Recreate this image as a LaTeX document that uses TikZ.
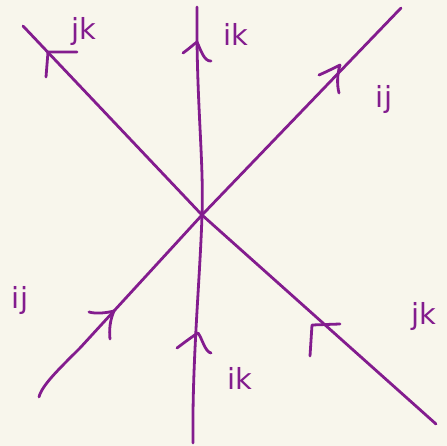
\documentclass[tikz,border=0pt]{standalone}
\usepackage{fontspec}
\setmainfont{DejaVu Sans}
\definecolor{bg}{HTML}{F8F6EC}
\definecolor{ink}{HTML}{831C8E}
\begin{document}
\begin{tikzpicture}[x=1pt,y=-1pt,
  pen/.style={draw=ink,line width=2.8pt,line cap=round,line join=round},
  lbl/.style={text=ink,font=\fontsize{29}{31}\selectfont,inner sep=0pt}]
\fill[bg] (0,0) rectangle (447,446);
\useasboundingbox (0,0) rectangle (447,446);
% vertex
\coordinate (o) at (202,215);
% ends
\coordinate (a1) at (23,26);
\coordinate (a2) at (436,424);
\coordinate (b1) at (197,7);
\coordinate (b2) at (193,443);
\coordinate (c1) at (39,397);
\coordinate (c2) at (401,8);
% lines
\draw[pen] (a1) -- (o) -- (a2);
\draw[pen] (b1) .. controls (196,100) and (204,160) .. (o)
  .. controls (200,280) and (192,360) .. (b2);
\draw[pen] (c1) .. controls (42,385) and (60,368) .. (80,348) -- (o) -- (c2);
% arrowheads
\draw[pen] (77,52) -- (48,52) -- (46,77);
\draw[pen] (340,324) -- (312,325) -- (310,356);
\draw[pen] (183,53) .. controls (190,48) and (194,44) .. (197,42)
  .. controls (200,48) and (204,62) .. (211,61);
\draw[pen] (177,348) .. controls (185,342) and (193,336) .. (198,333)
  .. controls (202,338) and (205,352) .. (211,353);
\draw[pen] (319,75) .. controls (326,72) and (334,68) .. (340,65) .. controls (337,75) and (337,85) .. (339,93);
\draw[pen] (89,312) .. controls (96,314) and (106,313) .. (114,311) .. controls (110,320) and (109,330) .. (110,339);
% labels
\node[lbl] (l1) at (84,32) {jk};
\node[lbl] (l2) at (236,34) {ik};
\node[lbl] (l3) at (384,100) {ij};
\node[lbl] (l4) at (20,300) {ij};
\node[lbl] (l5) at (240,378) {ik};
\node[lbl] (l6) at (424,316) {jk};
\end{tikzpicture}
\end{document}
